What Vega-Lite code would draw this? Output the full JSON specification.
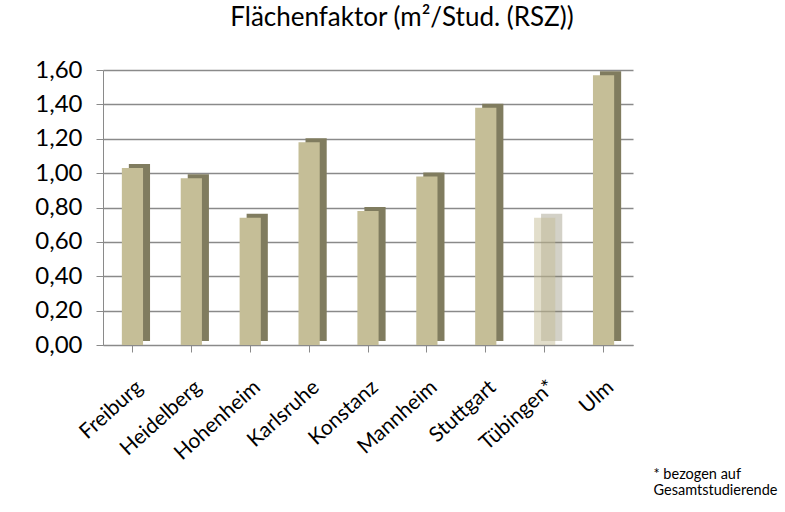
{
  "$schema": "https://vega.github.io/schema/vega-lite/v6.json",
  "autosize": {"type": "none"},
  "width": 530,
  "height": 275,
  "padding": {"left": 103, "top": 70, "right": 152, "bottom": 167},
  "background": "white",
  "title": {
    "text": "Flächenfaktor (m²/Stud. (RSZ))",
    "anchor": "middle",
    "frame": "group",
    "baseline": "alphabetic",
    "offset": 6,
    "dx": 34,
    "font": "Lato",
    "fontSize": 26,
    "fontWeight": "normal",
    "color": "#000000"
  },
  "data": {
    "values": [
      {"Hochschule": "Freiburg", "Wert": 1.03},
      {"Hochschule": "Heidelberg", "Wert": 0.97},
      {"Hochschule": "Hohenheim", "Wert": 0.74},
      {"Hochschule": "Karlsruhe", "Wert": 1.18},
      {"Hochschule": "Konstanz", "Wert": 0.78},
      {"Hochschule": "Mannheim", "Wert": 0.98},
      {"Hochschule": "Stuttgart", "Wert": 1.38},
      {"Hochschule": "Tübingen*", "Wert": 0.74},
      {"Hochschule": "Ulm", "Wert": 1.57}
    ]
  },
  "encoding": {
    "x": {
      "field": "Hochschule",
      "type": "nominal",
      "sort": null,
      "axis": {
        "title": ["* bezogen auf", "Gesamtstudierende"],
        "titleFont": "Lato",
        "titleFontSize": 14.5,
        "titleFontWeight": "normal",
        "titleColor": "#000000",
        "titleAlign": "left",
        "titleBaseline": "alphabetic",
        "titleLineHeight": 16,
        "titleX": 550,
        "titleY": 133,
        "labelAngle": -42,
        "labelAlign": "right",
        "labelBaseline": "top",
        "labelFont": "Lato",
        "labelFontSize": 21,
        "labelColor": "#000000",
        "labelPadding": 24,
        "labelOverlap": false,
        "domainColor": "#8a8a8a",
        "tickColor": "#8a8a8a",
        "tickSize": 7,
        "grid": false
      }
    },
    "y": {
      "field": "Wert",
      "type": "quantitative",
      "scale": {"domain": [0, 1.6], "nice": false},
      "axis": {
        "title": null,
        "values": [0, 0.2, 0.4, 0.6, 0.8, 1.0, 1.2, 1.4, 1.6],
        "labelExpr": "replace(format(datum.value, '.2f'), '.', ',')",
        "labelFont": "Lato",
        "labelFontSize": 24,
        "labelColor": "#000000",
        "labelPadding": 14,
        "domainColor": "#8a8a8a",
        "tickColor": "#8a8a8a",
        "tickSize": 7,
        "gridColor": "#8a8a8a",
        "gridWidth": 1.3
      }
    }
  },
  "layer": [
    {
      "mark": {"type": "bar", "width": {"band": 0.4}, "xOffset": 7, "yOffset": -4, "color": "#807c5f"},
      "encoding": {
        "opacity": {"condition": {"test": "datum.Hochschule === 'Tübingen*'", "value": 0.35}, "value": 1}
      }
    },
    {
      "mark": {"type": "bar", "width": {"band": 0.4}, "color": "#c5be97"},
      "encoding": {
        "opacity": {"condition": {"test": "datum.Hochschule === 'Tübingen*'", "value": 0.5}, "value": 1}
      }
    }
  ],
  "config": {
    "view": {"stroke": null},
    "axis": {"labelFont": "Lato"}
  }
}
